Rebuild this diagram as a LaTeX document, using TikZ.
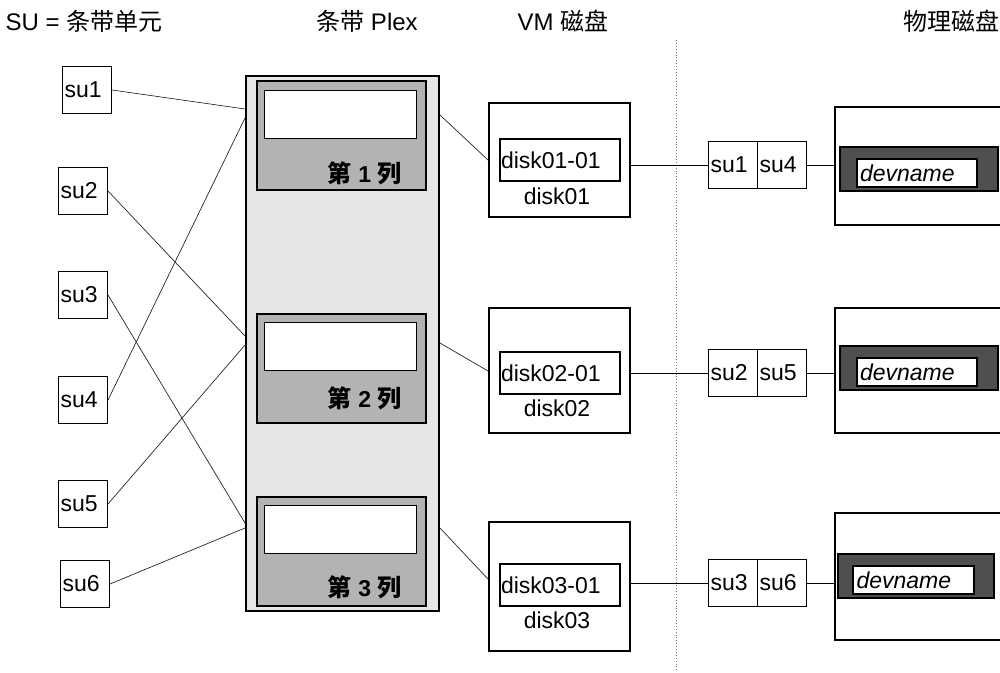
\documentclass[tikz,border=0pt]{standalone}
\usepackage{fontspec}
\setmainfont{Liberation Sans}
\newfontfamily\cjk{Noto Sans CJK SC}
\definecolor{plexgray}{HTML}{E6E6E6}
\definecolor{colgray}{HTML}{B3B3B3}
\definecolor{devgray}{HTML}{4F4F4F}
\begin{document}
\begin{tikzpicture}[x=1pt,y=-1pt,
  wire/.style={draw=black!85, line width=0.7pt},
  hwire/.style={draw=black, line width=1pt},
  thickbox/.style={draw=black, line width=2pt, inner sep=0pt, anchor=north west},
  thinbox/.style={draw=black, line width=1pt, fill=white, inner sep=0pt, anchor=north west},
  txt/.style={font=\fontsize{23}{26}\selectfont},
  title/.style={font=\fontsize{24}{28}\selectfont},
  subox/.style={thinbox, txt, minimum height=47pt, text width=45pt, inner xsep=2pt, align=left},
  colbox/.style={thickbox, fill=colgray, minimum width=169pt, minimum height=109pt},
  colwin/.style={thinbox, minimum width=152pt, minimum height=48pt},
  collab/.style={anchor=east, font=\fontsize{23}{26}\selectfont\bfseries},
  vmbox/.style={thickbox, fill=white, minimum width=141pt},
  vmpart/.style={thickbox, txt, minimum width=120pt, minimum height=42pt, text width=118pt, inner xsep=1pt, align=left},
  phbox/.style={thickbox, fill=white, minimum width=200pt},
  devbox/.style={thickbox, fill=devgray, minimum width=158pt, minimum height=44pt},
  devwin/.style={thickbox, fill=white, font=\fontsize{23}{26}\selectfont\itshape, minimum width=120pt, minimum height=28pt, text width=114pt, inner xsep=3pt, align=left}
]
\useasboundingbox (0,0) rectangle (1000,672);
\clip (0,0) rectangle (1000,672);

% titles
\node[title] (t1) at (84,21) {SU = {\cjk 条带单元}};
\node[title] (t2) at (367,21) {{\cjk 条带} Plex};
\node[title] (t3) at (563,21) {VM {\cjk 磁盘}};
\node[title] (t4) at (951,21) {\cjk 物理磁盘};

% dotted separator
\coordinate (septop) at (676,40);
\coordinate (sepbot) at (676,672);
\draw[black!55, dotted, line width=0.9pt] (septop) -- (sepbot);

% stripe units
\node[subox] (su1) at (62,66) {su1};
\node[subox] (su2) at (58,167) {su2};
\node[subox] (su3) at (58,271) {su3};
\node[subox] (su4) at (58,376) {su4};
\node[subox] (su5) at (58,480) {su5};
\node[subox] (su6) at (60,560) {su6};

% plex
\node[thickbox, fill=plexgray, minimum width=193pt, minimum height=535pt] (plex) at (245,75) {};
\node[colbox] (col1) at (256,80) {};
\node[colwin] (w1) at (264,90) {};
\node[collab] (l1) at (405,173) {{\cjk\fontsize{24}{26}\selectfont 第} 1 {\cjk\fontsize{24}{26}\selectfont 列}};
\node[colbox] (col2) at (256,313) {};
\node[colwin] (w2) at (264,322) {};
\node[collab] (l2) at (405,398) {{\cjk\fontsize{24}{26}\selectfont 第} 2 {\cjk\fontsize{24}{26}\selectfont 列}};
\node[colbox] (col3) at (256,496) {};
\node[colwin] (w3) at (264,505) {};
\node[collab] (l3) at (405,587) {{\cjk\fontsize{24}{26}\selectfont 第} 3 {\cjk\fontsize{24}{26}\selectfont 列}};

% VM disks
\node[vmbox, minimum height=114pt] (vm1) at (488,102) {};
\node[vmpart] (sd1) at (499,138) {disk01-01};
\node[txt] (vn1) at (557,196) {disk01};
\node[vmbox, minimum height=125pt] (vm2) at (488,307) {};
\node[vmpart] (sd2) at (499,351) {disk02-01};
\node[txt] (vn2) at (557,408) {disk02};
\node[vmbox, minimum height=129pt] (vm3) at (488,521) {};
\node[vmpart] (sd3) at (499,563) {disk03-01};
\node[txt] (vn3) at (557,620) {disk03};

% stripe unit pairs
\node[subox] (p1a) at (708,141) {su1};
\node[subox] (p1b) at (757,141) {su4};
\node[subox] (p2a) at (708,349) {su2};
\node[subox] (p2b) at (757,349) {su5};
\node[subox] (p3a) at (708,559) {su3};
\node[subox] (p3b) at (757,559) {su6};

% physical disks
\node[phbox, minimum height=118pt] (ph1) at (834,106) {};
\node[devbox] (dk1) at (839,146) {};
\node[devwin] (dv1) at (856,158) {devname};
\node[phbox, minimum height=125pt] (ph2) at (834,307) {};
\node[devbox] (dk2) at (839,345) {};
\node[devwin] (dv2) at (856,357) {devname};
\node[phbox, minimum height=127pt] (ph3) at (834,512) {};
\node[devbox, minimum width=156pt] (dk3) at (837,553) {};
\node[devwin, minimum width=121pt] (dv3) at (852,565) {devname};

% su -> plex
\draw[wire] (su1.east) -- (plex.west |- 0,109);
\draw[wire] (su4.east) -- (plex.west |- 0,118);
\draw[wire] (su2.east) -- (plex.west |- 0,336);
\draw[wire] (su5.east) -- (plex.west |- 0,345);
\draw[wire] (su3.east) -- (plex.west |- 0,523);
\draw[wire] (su6.east) -- (plex.west |- 0,528);

% plex -> VM disks
\draw[wire] (plex.east |- 0,115) -- (vm1.west |- 0,160);
\draw[wire] (plex.east |- 0,343) -- (vm2.west |- 0,371);
\draw[wire] (plex.east |- 0,528) -- (vm3.west |- 0,579);

% VM disks -> pairs -> physical
\draw[hwire] (vm1.east |- p1a.west) -- (p1a.west);
\draw[hwire] (p1b.east) -- (ph1.west |- p1b.east);
\draw[hwire] (vm2.east |- p2a.west) -- (p2a.west);
\draw[hwire] (p2b.east) -- (ph2.west |- p2b.east);
\draw[hwire] (vm3.east |- p3a.west) -- (p3a.west);
\draw[hwire] (p3b.east) -- (ph3.west |- p3b.east);
\end{tikzpicture}
\end{document}
